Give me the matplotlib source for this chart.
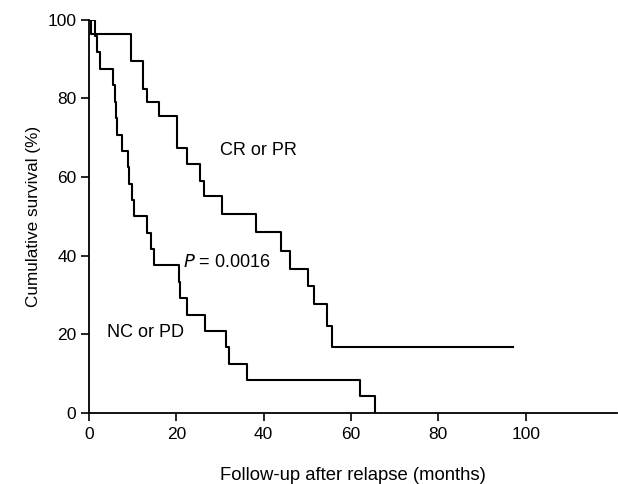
import numpy as np
import matplotlib
matplotlib.use("Agg")
import matplotlib.pyplot as plt

# ---- data (months, % surviving after each drop)
cr_times = [0, 0.4, 9.6, 12.3, 13.2, 16.1, 20.1, 22.5, 25.5, 26.4, 30.4,
            38.2, 44.0, 46.1, 50.1, 51.6, 54.5, 55.7, 97.0]
cr_surv  = [100, 96.5, 89.5, 82.5, 79.0, 75.5, 67.5, 63.2, 59.0, 55.2, 50.6,
            45.9, 41.3, 36.6, 32.2, 27.6, 22.1, 16.8, 16.8]

nc_times = [0, 1.4, 1.8, 2.5, 5.4, 6.0, 6.1, 6.3, 7.5, 9.0, 9.1, 9.8, 10.4,
            13.2, 14.2, 14.8, 20.5, 20.9, 22.5, 26.6, 31.4, 32.0, 36.2,
            62.0, 65.6]
nc_surv  = [100, 95.8, 91.7, 87.5, 83.3, 79.2, 75.0, 70.8, 66.7, 62.5, 58.3,
            54.2, 50.0, 45.8, 41.7, 37.5, 33.3, 29.2, 25.0, 20.8, 16.7, 12.5,
            8.3, 4.2, 0.0]

x_ticks = [0, 20, 40, 60, 80, 100]
y_ticks = [0, 20, 40, 60, 80, 100]

plt.rcParams["font.family"] = ["Liberation Sans", "DejaVu Sans"]

fig = plt.figure(figsize=(6.18, 4.84), dpi=100)
ax = fig.add_axes([0.144, 0.147, 0.855, 0.812])

ax.step(cr_times, cr_surv, where="post", color="black", lw=1.5)
ax.step(nc_times, nc_surv, where="post", color="black", lw=1.5)

ax.set_xlim(0, 121)
ax.set_ylim(0, 100)
ax.set_xticks(x_ticks)
ax.set_yticks(y_ticks)
ax.tick_params(direction="out", length=6, width=1.2, labelsize=12.5,
               pad=3, color="black")
ax.tick_params(axis="x", pad=4)
for s in ["top", "right"]:
    ax.spines[s].set_visible(False)
for s in ["left", "bottom"]:
    ax.spines[s].set_linewidth(1.3)
ax.spines["left"].set_bounds(0, 100)

ax.set_xlabel("Follow-up after relapse (months)", fontsize=13.3, labelpad=18)
ax.set_ylabel("Cumulative survival (%)", fontsize=12.3, labelpad=5)

ax.text(30, 66.8, "CR or PR", fontsize=13, va="center")
ax.text(21.6, 38.2, r"$\it{P}$ = 0.0016", fontsize=13, va="center")
ax.text(4.1, 20.4, "NC or PD", fontsize=13, va="center")

fig.savefig("out.png", dpi=100)
